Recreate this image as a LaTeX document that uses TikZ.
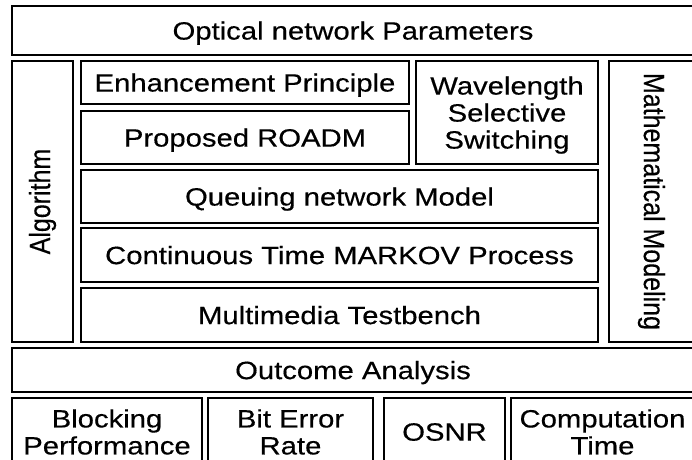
\documentclass[tikz,border=0pt]{standalone}
\usepackage{fontspec}
\setmainfont{Liberation Sans}[FakeStretch=1.17, FakeBold=0.4]
\newfontfamily\sidefont{Liberation Sans}[FakeBold=0.4]

\begin{document}
\begin{tikzpicture}[
    x=1pt, y=-1pt,
    box/.style={rectangle, draw=black, line width=2pt, anchor=north west,
                outer sep=0pt, inner sep=0pt, align=center,
                font=\fontsize{25}{27}\selectfont},
    solo/.style={text depth=0pt},
  ]
    \useasboundingbox (0,0) rectangle (692,459);
    \clip (0,0) rectangle (692,459);

    % Header
    \node[box, solo, minimum width=682, minimum height=49] (param) at (12,6) {Optical network Parameters};
    % Side columns
    \node[box, minimum width=61, minimum height=281] (algo) at (12,61)
        {\rotatebox{90}{\scalebox{1}[1.17]{\sidefont Algorithm}}};
    \node[box, minimum width=85, minimum height=281] (math) at (609,61)
        {\rotatebox{-90}{\scalebox{1}[1.17]{\sidefont Mathematical Modeling}}};
    % Core stack
    \node[box, solo, minimum width=328, minimum height=43] (enh) at (81,61) {Enhancement Principle};
    \node[box, solo, minimum width=328, minimum height=53] (roadm) at (81,111) {Proposed ROADM};
    \node[box, solo, minimum width=182, minimum height=103] (wss) at (416,61) {Wavelength\\Selective\\Switching};
    \node[box, solo, minimum width=517, minimum height=53] (queue) at (81,170) {Queuing network Model};
    \node[box, solo, minimum width=517, minimum height=54] (markov) at (81,228) {Continuous Time MARKOV Process};
    \node[box, solo, minimum width=517, minimum height=54] (media) at (81,288) {Multimedia Testbench};
    % Outcome
    \node[box, solo, minimum width=682, minimum height=44] (outcome) at (12,348) {Outcome Analysis};
    % Metrics
    \node[box, minimum width=190, minimum height=68] (block) at (12,398) {Blocking\\Performance};
    \node[box, minimum width=165, minimum height=68] (ber) at (208,398) {Bit Error\\Rate};
    \node[box, minimum width=121, minimum height=68] (osnr) at (384,398) {OSNR};
    \node[box, minimum width=183, minimum height=68] (comp) at (511,398) {Computation\\Time};
  \end{tikzpicture}
\end{document}
